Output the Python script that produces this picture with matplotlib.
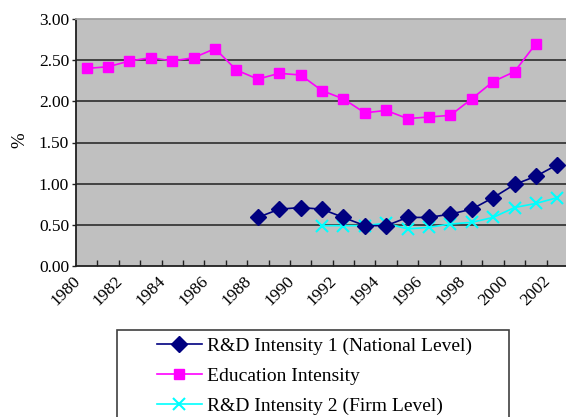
import numpy as np
import matplotlib
matplotlib.use("Agg")
import matplotlib.pyplot as plt
from matplotlib.patches import Rectangle

years = list(range(1980, 2003))
tick_labels = [str(y) if y % 2 == 0 else "" for y in years]

# Education intensity, 1980-2001
education = [2.40, 2.42, 2.49, 2.53, 2.49, 2.53, 2.64, 2.38, 2.27, 2.34,
             2.32, 2.13, 2.03, 1.86, 1.89, 1.79, 1.81, 1.83, 2.03, 2.24,
             2.36, 2.70]
# R&D intensity 1 (national level), 1988-2002
rd_national_years = list(range(1988, 2003))
rd_national = [0.59, 0.69, 0.71, 0.69, 0.59, 0.49, 0.49, 0.59, 0.59, 0.63,
               0.69, 0.83, 0.99, 1.09, 1.23]
# R&D intensity 2 (firm level), 1991-2002
rd_firm_years = list(range(1991, 2003))
rd_firm = [0.49, 0.49, 0.49, 0.52, 0.45, 0.47, 0.51, 0.53, 0.59, 0.71,
           0.76, 0.83]

W, H = 566, 417
plt.rcParams["font.family"] = ["Liberation Serif", "DejaVu Serif"]

fig = plt.figure(figsize=(W / 100, H / 100), dpi=100)
ax = fig.add_axes([76 / W, (H - 266) / H, 492 / W, 247 / H])
ax.set_facecolor("#c0c0c0")

idx = {y: i for i, y in enumerate(years)}
x_edu = [idx[y] for y in years[:len(education)]]
x_nat = [idx[y] for y in rd_national_years]
x_firm = [idx[y] for y in rd_firm_years]

l1, = ax.plot(x_nat, rd_national, color="#000080", marker="D", markersize=8,
              lw=1.2, clip_on=False, zorder=4)
l2, = ax.plot(x_edu, education, color="#ff00ff", marker="s", markersize=7.5,
              lw=1.2, zorder=3)
l3, = ax.plot(x_firm, rd_firm, color="#00ffff", marker="x", markersize=8,
              mew=1.5, lw=1.2, zorder=3)

ax.set_ylim(0, 3)
ax.set_xlim(-0.5, len(years) - 0.5)
ax.set_yticks(np.arange(0, 3.01, 0.5))
ax.set_yticklabels(["%.2f" % v for v in np.arange(0, 3.01, 0.5)], fontsize=12.5)
for v in np.arange(0.5, 2.6, 0.5):
    ax.axhline(v, color="#202020", lw=1.1, zorder=1)

# year labels: right end of each rotated label sits just left of its category
ax.set_xticks(np.arange(len(years)) - 0.15)
ax.set_xticklabels(tick_labels, rotation=45, ha="right", va="top",
                   fontsize=12.5)
ax.tick_params(axis="x", length=0, pad=5)
ax.set_xticks(np.arange(0.5, len(years) - 0.5, 1), minor=True)
ax.tick_params(axis="x", which="minor", direction="in", length=4,
               width=1, color="#202020")
ax.tick_params(axis="y", direction="out", length=3, width=1,
               color="#202020", pad=2)

for s in ["left", "bottom"]:
    ax.spines[s].set_color("#202020")
    ax.spines[s].set_linewidth(1.3)
ax.spines["top"].set_color("#a0a0a0")
ax.spines["top"].set_linewidth(1.3)
ax.spines["right"].set_visible(False)

fig.text(20 / W, 1 - 140 / H, "%", rotation=90, fontsize=13.5,
         ha="center", va="center")

# legend frame
fig.patches.append(Rectangle((117 / W, -0.05), (509 - 117) / W,
                             (H - 330) / H + 0.05, transform=fig.transFigure,
                             facecolor="white", edgecolor="#404040", lw=1.2))
fig.legend([l1, l2, l3],
           ["R&D Intensity 1 (National Level)", "Education Intensity",
            "R&D Intensity 2 (Firm Level)"],
           loc="upper left", bbox_to_anchor=(157 / W, 1 - 337 / H),
           frameon=False, fontsize=14, handlelength=2.3, handletextpad=0.25,
           labelspacing=0.65, borderpad=0, borderaxespad=0)

fig.savefig("out.png", dpi=100)
